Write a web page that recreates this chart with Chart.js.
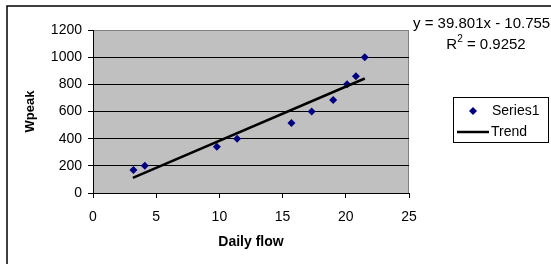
<!DOCTYPE html>
<html>
<head>
<meta charset="utf-8">
<script src="https://cdn.jsdelivr.net/npm/chart.js@4/dist/chart.umd.min.js"></script>
<style>
  html, body { margin: 0; padding: 0; background: #fff; }
  #wrap { width: 551px; height: 264px; position: relative; }
</style>
</head>
<body>
<div id="wrap"><canvas id="chart" width="551" height="264"></canvas></div>
<script>
/* ── DATA ── */
const flowX   = [3.2, 4.1, 9.8, 11.4, 15.7, 17.3, 19.0, 20.1, 20.8, 21.5];
const wpeakY  = [170, 200, 340, 400, 515, 600, 685, 800, 860, 1000];
const trendX  = [3.15, 21.5];
const trendY  = [112, 843];
const xTicks  = [0, 5, 10, 15, 20, 25];
const yTicks  = [0, 200, 400, 600, 800, 1000, 1200];
const eqText  = 'y = 39.801x - 10.755';
const r2Value = ' = 0.9252';

const FONT = "'Liberation Sans', Arial, sans-serif";
const NAVY = '#000080';

/* ── PLOT BACKGROUND, FRAME, LEGEND, EQUATION ── */
const excelLook = {
  id: 'excelLook',
  beforeDraw(chart) {
    const { ctx, chartArea: a } = chart;
    ctx.save();
    ctx.fillStyle = '#C0C0C0';
    ctx.fillRect(a.left, a.top, a.right - a.left, a.bottom - a.top);
    ctx.strokeStyle = '#808080';
    ctx.lineWidth = 1;
    ctx.strokeRect(a.left + 0.5, a.top + 0.5, a.right - a.left - 1, a.bottom - a.top);
    /* outer chart frame (left + top visible) */
    ctx.strokeStyle = '#000';
    ctx.lineWidth = 1.5;
    ctx.beginPath();
    ctx.moveTo(7, 270);
    ctx.lineTo(7, 6);
    ctx.lineTo(560, 6);
    ctx.stroke();
    ctx.restore();
  },
  afterDraw(chart) {
    const { ctx } = chart;
    ctx.save();

    /* legend box */
    ctx.fillStyle = '#fff';
    ctx.fillRect(453, 97, 96, 46);
    ctx.strokeStyle = '#000';
    ctx.lineWidth = 1;
    ctx.strokeRect(453.5, 97.5, 95, 45);

    ctx.fillStyle = NAVY;
    ctx.beginPath();
    ctx.moveTo(473, 107);
    ctx.lineTo(477, 111);
    ctx.lineTo(473, 115);
    ctx.lineTo(469, 111);
    ctx.closePath();
    ctx.fill();

    ctx.strokeStyle = '#000';
    ctx.lineWidth = 2.5;
    ctx.beginPath();
    ctx.moveTo(457, 132);
    ctx.lineTo(489, 132);
    ctx.stroke();

    ctx.fillStyle = '#000';
    ctx.font = '14px ' + FONT;
    ctx.textBaseline = 'middle';
    ctx.textAlign = 'left';
    ctx.fillText(chart.data.datasets[0].label, 492, 111);
    ctx.fillText(chart.data.datasets[1].label, 491, 132);

    /* trendline equation */
    ctx.font = '15px ' + FONT;
    ctx.fillText(eqText, 413, 24);
    const rW = ctx.measureText('R').width;
    ctx.font = '10px ' + FONT;
    const sW = ctx.measureText('2').width;
    ctx.font = '15px ' + FONT;
    const vW = ctx.measureText(r2Value).width;
    let x0 = 486 - (rW + sW + vW) / 2;
    ctx.fillText('R', x0, 45);
    ctx.font = '10px ' + FONT;
    ctx.fillText('2', x0 + rW, 39);
    ctx.font = '15px ' + FONT;
    ctx.fillText(r2Value, x0 + rW + sW, 45);

    ctx.restore();
  }
};

/* ── CHART ── */
new Chart(document.getElementById('chart').getContext('2d'), {
  type: 'scatter',
  data: {
    datasets: [
      {
        label: 'Series1',
        data: flowX.map((x, i) => ({ x, y: wpeakY[i] })),
        pointStyle: 'rectRot',
        pointRadius: 4,
        pointBackgroundColor: NAVY,
        pointBorderColor: NAVY,
        pointBorderWidth: 0,
        order: 2
      },
      {
        label: 'Trend',
        type: 'line',
        data: trendX.map((x, i) => ({ x, y: trendY[i] })),
        borderColor: '#000',
        borderWidth: 2.5,
        pointRadius: 0,
        fill: false,
        order: 1
      }
    ]
  },
  options: {
    responsive: false,
    animation: false,
    devicePixelRatio: 1,
    layout: { padding: { left: 0, top: 30, right: 142, bottom: 0 } },
    plugins: {
      legend:  { display: false },
      tooltip: { enabled: false }
    },
    scales: {
      x: {
        type: 'linear',
        min: 0, max: 25,
        afterBuildTicks: s => { s.ticks = xTicks.map(v => ({ value: v })); },
        afterFit: s => { s.height = 71; },
        grid:   { drawOnChartArea: false, tickLength: 5, color: '#000' },
        border: { color: '#000', width: 1 },
        ticks:  {
          font: { family: FONT, size: 14 }, color: '#000', padding: 11, maxRotation: 0,
          callback: v => String(v)
        },
        title:  {
          display: true, text: 'Daily flow', color: '#000',
          font: { family: FONT, size: 14, weight: 'bold' },
          padding: { bottom: 13 }
        }
      },
      y: {
        min: 0, max: 1200,
        afterBuildTicks: s => { s.ticks = yTicks.map(v => ({ value: v })); },
        afterFit: s => { s.width = 93; },
        grid: {
          tickLength: 5,
          tickColor: '#000',
          color: c => (c.tick && c.tick.value === 1200 ? '#808080' : '#000')
        },
        border: { color: '#000', width: 1 },
        ticks:  {
          font: { family: FONT, size: 14 }, color: '#000', padding: 6,
          callback: v => String(v)
        },
        title:  {
          display: true, text: 'Wpeak', color: '#000',
          font: { family: FONT, size: 13, weight: 'bold' },
          padding: { top: 23 }
        }
      }
    }
  },
  plugins: [excelLook]
});
</script>
</body>
</html>
